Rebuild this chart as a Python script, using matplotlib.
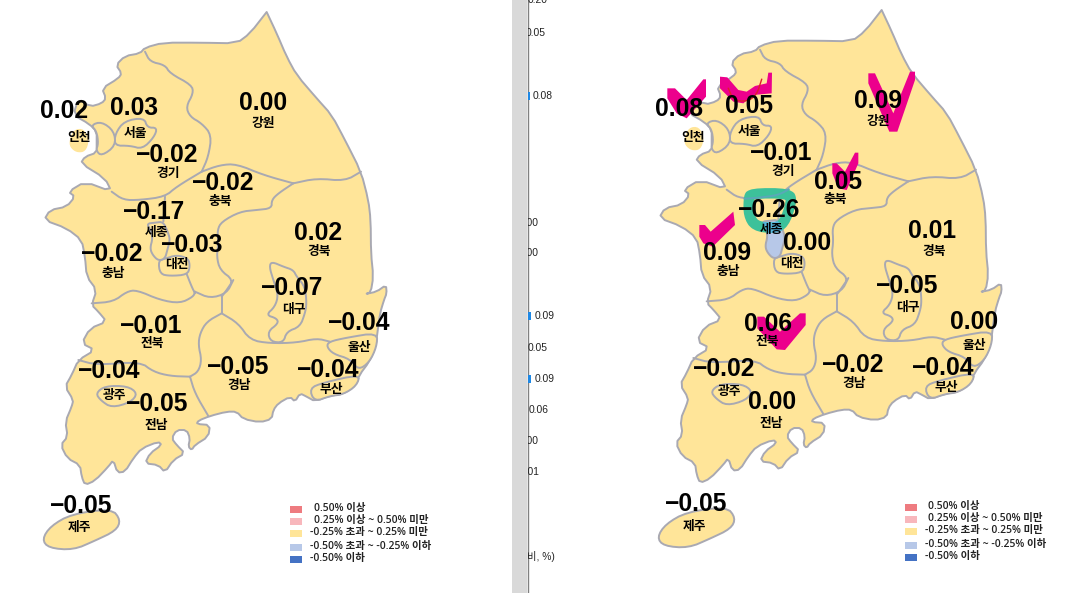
import numpy as np
import matplotlib
matplotlib.use("Agg")
import matplotlib.pyplot as plt
from matplotlib.patches import Polygon, Rectangle

plt.rcParams['font.family'] = ['Liberation Sans', 'Noto Sans CJK KR', 'DejaVu Sans']

# ---------- data ----------
regions = ['인천', '서울', '경기', '강원', '충북', '세종', '대전', '충남', '경북',
           '대구', '전북', '광주', '전남', '경남', '부산', '울산', '제주']
values_left = [0.02, 0.03, -0.02, 0.00, -0.02, -0.17, -0.03, -0.02, 0.02,
               -0.07, -0.01, -0.04, -0.05, -0.05, -0.04, -0.04, -0.05]
values_right = [0.08, 0.05, -0.01, 0.09, 0.05, -0.26, 0.00, 0.09, 0.01,
                -0.05, 0.06, -0.02, 0.00, -0.02, -0.04, 0.00, -0.05]
legend_labels = ['0.50% 이상', '0.25% 이상 ~ 0.50% 미만', '-0.25% 초과 ~ 0.25% 미만',
                 '-0.50% 초과 ~ -0.25% 이하', '-0.50% 이하']
legend_colors = ['#EE7B80', '#F8B7BC', '#FFE599', '#B7C8E8', '#4472C4']
strip_labels = ['0.20', '0.05', '0.08', '0.00', '0.00', '0.09', '0.05', '0.09',
                '0.06', '0.00', '0.01', '(전월대비, %)']

# ---------- positions ----------
val_xy_left = [(64,111),(134,108),(167,155),(263,103),(223,183),(154,212),(192,245),(112,254),(318,233),
               (292,288),(151,326),(109,371),(157,404),(238,367),(328,370),(359,323),(81,506)]
lab_xy_left = [(79,138),(135,133),(168,173),(263,123),(220,202),(156,232),(177,264),(113,274),(319,252),
               (294,309),(152,343),(114,395),(156,425),(239,386),(331,389),(359,348),(79,527)]
val_xy_right = [(679,109),(749,106),(781,153),(878,101),(838,182),(769,210),(807,243),(727,253),(932,231),
                (907,286),(768,324),(724,369),(772,402),(853,365),(943,368),(974,322),(696,504)]
lab_xy_right = [(693,137),(749,131),(783,171),(878,121),(835,200),(771,229),(792,263),(728,272),(934,251),
                (908,307),(767,342),(729,392),(771,423),(854,383),(946,387),(974,346),(694,526)]
strip_right = [548, 546, 553, 539, 539, 555, 548, 555, 549, 539, 540, 555]
strip_y = [0, 33, 96, 223, 253, 316, 348, 379, 410, 441, 472, 557]
strip_bar_y = [96, 316, 379]
strip_bar_w = [2, 3, 3]

def s(pts):  # southern sheet → common sheet
    return [(x, y + 870) for x, y in pts]

# ---------- outlines (traced) ----------
coast_north = [(710,36),(710,36),(740,100),(770,170),(800,225),(860,295),(905,345),(945,420),(993,515),(1015,600),
               (1022,660),(1023,760),(1030,830),(1022,878),(1006,882),(1040,875),(1068,855),(1070,880)]
coast_south = s([(1062,30),(1050,70),(1042,130),(1037,170),(1018,215),(988,255),(978,285),(940,312),(900,317),
                 (855,334),(830,320),(810,310),(795,335),(780,320),(745,340),(730,360),(725,387),(690,397),
                 (640,387),(620,365),(590,365),(540,378),(505,392),(500,402),(540,405),(535,440),(495,465),
                 (485,480),(475,470),(480,445),(470,420),(440,420),(425,445),(440,465),(465,490),(430,510),
                 (405,547),(385,525),(345,520),(360,490),(395,465),(385,455),(335,475),(310,505),(285,545),
                 (262,548),(250,510),(235,530),(195,572),(165,585),(155,560),(150,525),(112,505),(92,465),
                 (113,440),(106,395),(125,350),(130,330),(105,290),(125,255),(145,210),(195,180),(155,160),
                 (180,115),(230,95),(205,65),(185,45),(200,0)])
coast_west = [(170,830),(165,770),(155,720),(110,685),(42,660),(60,630),(110,620),(135,590),(115,575),(165,545),
              (245,575),(225,535),(152,490),(165,470),(200,458),(200,430),(200,395),(178,372),(130,345),(145,296),
              (180,320),(215,310),(228,295),(216,265),(265,235),(275,220),(258,195),(285,168),(330,160),(345,143),
              (400,128),(510,128),(620,130),(660,100)]
jeju = s([(36,748),(62,708),(125,672),(245,656),(272,690),(258,722),(195,752),(130,780),(56,774)])
incheon_isle = [(118,420),(132,388),(162,386),(178,420),(167,455),(140,458),(120,442)]
seoul = [(253,437),(256,400),(283,363),(342,353),(352,383),(382,383),(372,412),(337,447),(300,437)]
incheon_land = [(200,395),(183,375),(215,365),(252,393),(257,437),(215,468),(198,452),(205,430)]
sejong = [(350,671),(375,668),(400,665),(415,700),(420,720),(412,750),(405,776),(385,782),(368,765),(360,745),(368,715),(362,690)]
daejeon = [(385,782),(405,776),(440,765),(475,775),(480,800),(472,824),(420,828),(390,822)]
gwangju = s([(197,310),(225,288),(292,288),(323,310),(302,337),(245,353),(213,332)])
daegu = s([(708,75),(735,50),(745,15),(730,-30),(718,-70),(725,-85),(760,-70),(790,-60),(800,-40),(825,-10),(830,40),
           (825,70),(810,110),(770,125),(760,158),(722,155),(713,125),(745,100),(740,85)])
ulsan = s([(897,155),(950,143),(1042,128),(1040,170),(1018,217),(985,240),(960,207),(910,192),(890,170)])
busan = s([(838,295),(880,278),(990,253),(980,287),(940,313),(900,318),(853,335)])
enclaves = [seoul, incheon_land, daejeon, gwangju, daegu, ulsan, busan]

borders = [
    [(345,155),(360,185),(405,195),(420,220),(485,255),(490,280),(468,320),(480,350),(515,370),(545,405),(535,470),(515,515)],
    [(515,515),(440,560),(405,590),(330,600),(280,600),(245,575)],
    [(515,515),(570,495),(620,492),(700,525),(790,550)],
    [(790,550),(860,535),(945,543),(993,515)],
    [(790,550),(745,580),(725,600),(725,625),(680,630),(630,635),(575,665),(562,690),(565,730),(560,770),(570,810),(610,840),(590,870),(575,890)],
    [(405,590),(400,665)],
    [(470,822),(485,860),(495,880)],
    s([(185,40),(250,35),(290,5),(320,0),(390,30),(450,40),(490,20),(495,5)]),
    s([(495,5),(540,25),(590,10),(610,-30)]),
    s([(575,15),(575,70)]),
    s([(575,70),(530,95),(510,130),(505,165),(515,210),(505,245),(480,260)]),
    s([(145,210),(200,225),(330,215),(370,245),(420,258),(480,260)]),
    s([(480,260),(495,310),(535,378)]),
    s([(575,70),(625,100),(660,150),(720,160),(800,158),(860,145),(900,155)]),
]

# pink check marks etc., traced on the right panel's own sheet
checks = [
    [(82,265),(105,265),(140,300),(190,238),(198,238),(198,290),(140,355),(110,340),(82,295)],
    [(240,230),(262,232),(295,270),(320,275),(345,258),(380,250),(385,218),(396,218),(395,280),(340,285),(310,310),(280,305),(240,265)],
    [(685,220),(705,220),(760,340),(810,215),(825,215),(825,240),(772,395),(748,395),(685,250)],
    [(577,490),(590,490),(615,515),(645,458),(655,458),(655,490),(620,570),(595,565),(577,520)],
    [(178,675),(195,675),(212,695),(280,635),(285,675),(218,740),(190,730),(178,710)],
    [(352,950),(372,950),(420,995),(480,940),(497,940),(497,975),(435,1050),(410,1048),(352,985)],
]
red_stroke = [(265,265),(280,300),(320,305),(350,285),(365,238)]
green_ring = [(332,580),(448,580),(455,605),(432,672),(400,685),(345,678),(326,645),(326,598)]
ring_border = [(314,596),(345,594),(400,588),(425,580),(446,568)]

INK = '#A9A9B2'
LAND = '#FFE599'
PINK = '#EC008C'
GREEN = '#3DC19A'

fig = plt.figure(figsize=(10.73, 5.93), dpi=100)
ax = fig.add_axes([0, 0, 1, 1])
ax.set_xlim(0, 1073)
ax.set_ylim(593, 0)
ax.axis('off')

def smooth(pts, closed=True, n=2):
    p = np.array(pts, float)
    for _ in range(n):
        q = np.roll(p, -1, axis=0) if closed else p[1:]
        a = p if closed else p[:-1]
        new = np.empty((2 * len(a), 2))
        new[0::2] = 0.75 * a + 0.25 * q
        new[1::2] = 0.25 * a + 0.75 * q
        p = new if closed else np.vstack([p[0], new, p[-1]])
    return p

def sheet(pts, ox, oy):
    p = np.array(pts, float)
    return np.c_[30 + p[:, 0] / 3 + ox, p[:, 1] / 3 + oy]

def rsheet(pts):
    p = np.array(pts, float)
    return np.c_[640 + p[:, 0] / 3, p[:, 1] / 3]

def draw_map(ox, oy, seg_color=None):
    kw = dict(ec=INK, lw=1.4, joinstyle='round')
    land = coast_north + coast_south + coast_west
    ax.add_patch(Polygon(smooth(sheet(land, ox, oy), n=1), fc=LAND, zorder=2, **kw))
    ax.add_patch(Polygon(smooth(sheet(jeju, ox, oy)), fc=LAND, zorder=2, **kw))
    ax.add_patch(Polygon(smooth(sheet(incheon_isle, ox, oy)), fc=LAND, ec='none', zorder=2))
    for b in borders:
        xy = smooth(sheet(b, ox, oy), closed=False)
        ax.plot(xy[:, 0], xy[:, 1], color=INK, lw=1.4, zorder=3, solid_capstyle='round')
    for e in enclaves:
        ax.add_patch(Polygon(smooth(sheet(e, ox, oy)), fc=LAND, zorder=3, **kw))
    return ax.add_patch(Polygon(smooth(sheet(sejong, ox, oy)), fc=seg_color or LAND, zorder=3, **kw))

def draw_values(vals, val_xy, lab_xy):
    for name, v, (vx, vy), (lx, ly) in zip(regions, vals, val_xy, lab_xy):
        txt = f'{v:.2f}'.replace('-', '\u2212')
        ax.text(vx, vy, txt, ha='center', va='center', fontsize=17.7, fontweight='bold',
                family='Liberation Sans', color='black', zorder=10)
        ax.text(lx, ly, name, ha='center', va='center', fontsize=9.2, fontweight='bold',
                family='Noto Sans CJK KR', color='black', zorder=10)

def draw_legend(ox, oy):
    ys = [509, 521, 533, 547, 559]
    for y, c, lab in zip(ys, legend_colors, legend_labels):
        ax.add_patch(Rectangle((290 + ox, y - 3.5 + oy), 12, 7, fc=c, ec='none', zorder=4))
        ax.text((310 if lab.startswith('-') else 313.5) + ox, y + oy, lab, ha='left', va='center',
                fontsize=7.5, fontweight='semibold', family=['Open Sans', 'Noto Sans CJK KR'],
                color='#222222', zorder=5)

# left panel
draw_map(0, 0)
draw_values(values_left, val_xy_left, lab_xy_left)
draw_legend(0, 0)

# right panel
sej = draw_map(615, -2, '#B7C8E8')
ring_s = smooth(rsheet(green_ring))
ax.add_patch(Polygon(ring_s, fc='none', ec=GREEN, lw=7.5, zorder=4, joinstyle='round'))
over = ax.add_patch(Polygon(ring_s, fc='none', ec='#58B7DE', lw=7.5, zorder=4.1))
over.set_clip_path(sej)
rb = smooth(rsheet(ring_border), closed=False)
ax.plot(rb[:, 0], rb[:, 1], color='#5AA8B8', lw=1.4, zorder=4.2)
for c in checks:
    ax.add_patch(Polygon(rsheet(c), fc=PINK, ec='none', zorder=6))
r = smooth(rsheet(red_stroke), closed=False)
ax.plot(r[:, 0], r[:, 1], color='#E0202A', lw=1, zorder=7)
draw_values(values_right, val_xy_right, lab_xy_right)
draw_legend(615, -2)

# middle strip of the screenshot
ax.add_patch(Rectangle((512, 0), 15, 593, fc='#D9D9D9', ec='none', zorder=1))
ax.plot([527.5, 527.5], [0, 593], color='#808080', lw=1, zorder=1)
clip = Rectangle((528, 0), 40, 593, transform=ax.transData, fc='none', ec='none')
for t, xr, y in zip(strip_labels, strip_right, strip_y):
    tx = ax.text(xr, y, t, ha='right', va='center', fontsize=7.4, color='#222222',
                 family=['Liberation Sans', 'Noto Sans CJK KR'], zorder=2, clip_on=True)
    tx.set_clip_path(clip)
for y, w in zip(strip_bar_y, strip_bar_w):
    ax.add_patch(Rectangle((528, y - 4), w, 8, fc='#1E88E5', ec='none', zorder=2))

fig.savefig('out.png', dpi=100, facecolor='white')
